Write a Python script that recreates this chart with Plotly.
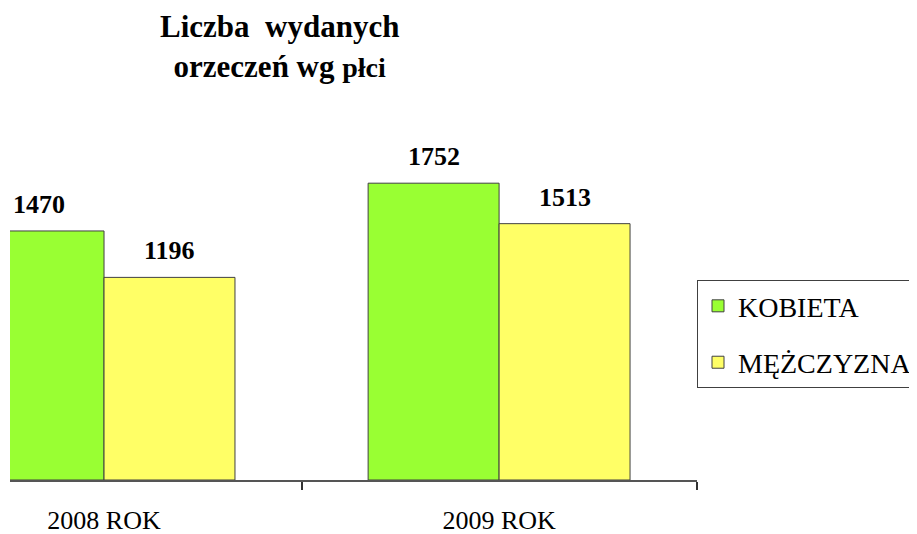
import plotly.graph_objects as go

categories = ["2008 ROK", "2009 ROK"]
kobieta = [1470, 1752]
mezczyzna = [1196, 1513]
series_names = ["KOBIETA", "MĘŻCZYZNA"]
title_text = "Liczba\u00a0 wydanych<br>orzeczeń wg <span style='font-size:28px'>płci</span>"

GREEN = "#99FF33"
YELLOW = "#FFFF66"
EDGE = "#404040"
SERIF = "Liberation Serif"

fig = go.Figure()
fig.add_trace(go.Bar(x=categories, y=kobieta, name=series_names[0], legendgroup="a",
                     marker=dict(color=GREEN, line=dict(color=EDGE, width=1))))
fig.add_trace(go.Bar(x=categories, y=mezczyzna, name=series_names[1], legendgroup="b",
                     marker=dict(color=YELLOW, line=dict(color=EDGE, width=1))))

for vals, shift in ((kobieta, -65.5), (mezczyzna, 65.5)):
    for c, v in zip(categories, vals):
        fig.add_annotation(x=c, y=v, text=str(v), showarrow=False, xshift=shift,
                           yanchor="bottom", yshift=10,
                           font=dict(family=SERIF, size=26, color="black", weight="bold"))

# chart title
fig.add_annotation(text=title_text, xref="paper", yref="paper", x=0.393, y=1.2455,
                   xanchor="center", yanchor="top", showarrow=False, align="center",
                   font=dict(family=SERIF, size=31, color="black", weight="bold"))

fig.update_layout(
    width=917, height=534,
    margin=dict(l=2, r=228, t=92, b=62, autoexpand=False),
    paper_bgcolor="white", plot_bgcolor="white",
    font=dict(family=SERIF, color="black"),
    barmode="group", bargap=0.337, bargroupgap=0,
    xaxis=dict(range=[-0.238, 1.501], showline=True, linecolor="#555555", linewidth=1.5,
               ticks="outside", tickson="boundaries", ticklen=8, tickcolor="#333333",
               tickwidth=1.5, showgrid=False, zeroline=False, ticklabelstandoff=16,
               tickfont=dict(family=SERIF, size=26, color="black")),
    yaxis=dict(range=[0, 2243], visible=False),
    legend=dict(x=1.0, xanchor="left", y=0.526, yanchor="top",
                bgcolor="white", bordercolor=EDGE, borderwidth=1,
                font=dict(family=SERIF, size=28, color="black"),
                tracegroupgap=17, traceorder="grouped",
                entrywidth=240, entrywidthmode="pixels"),
    showlegend=True,
)

fig.write_html("out.html")
